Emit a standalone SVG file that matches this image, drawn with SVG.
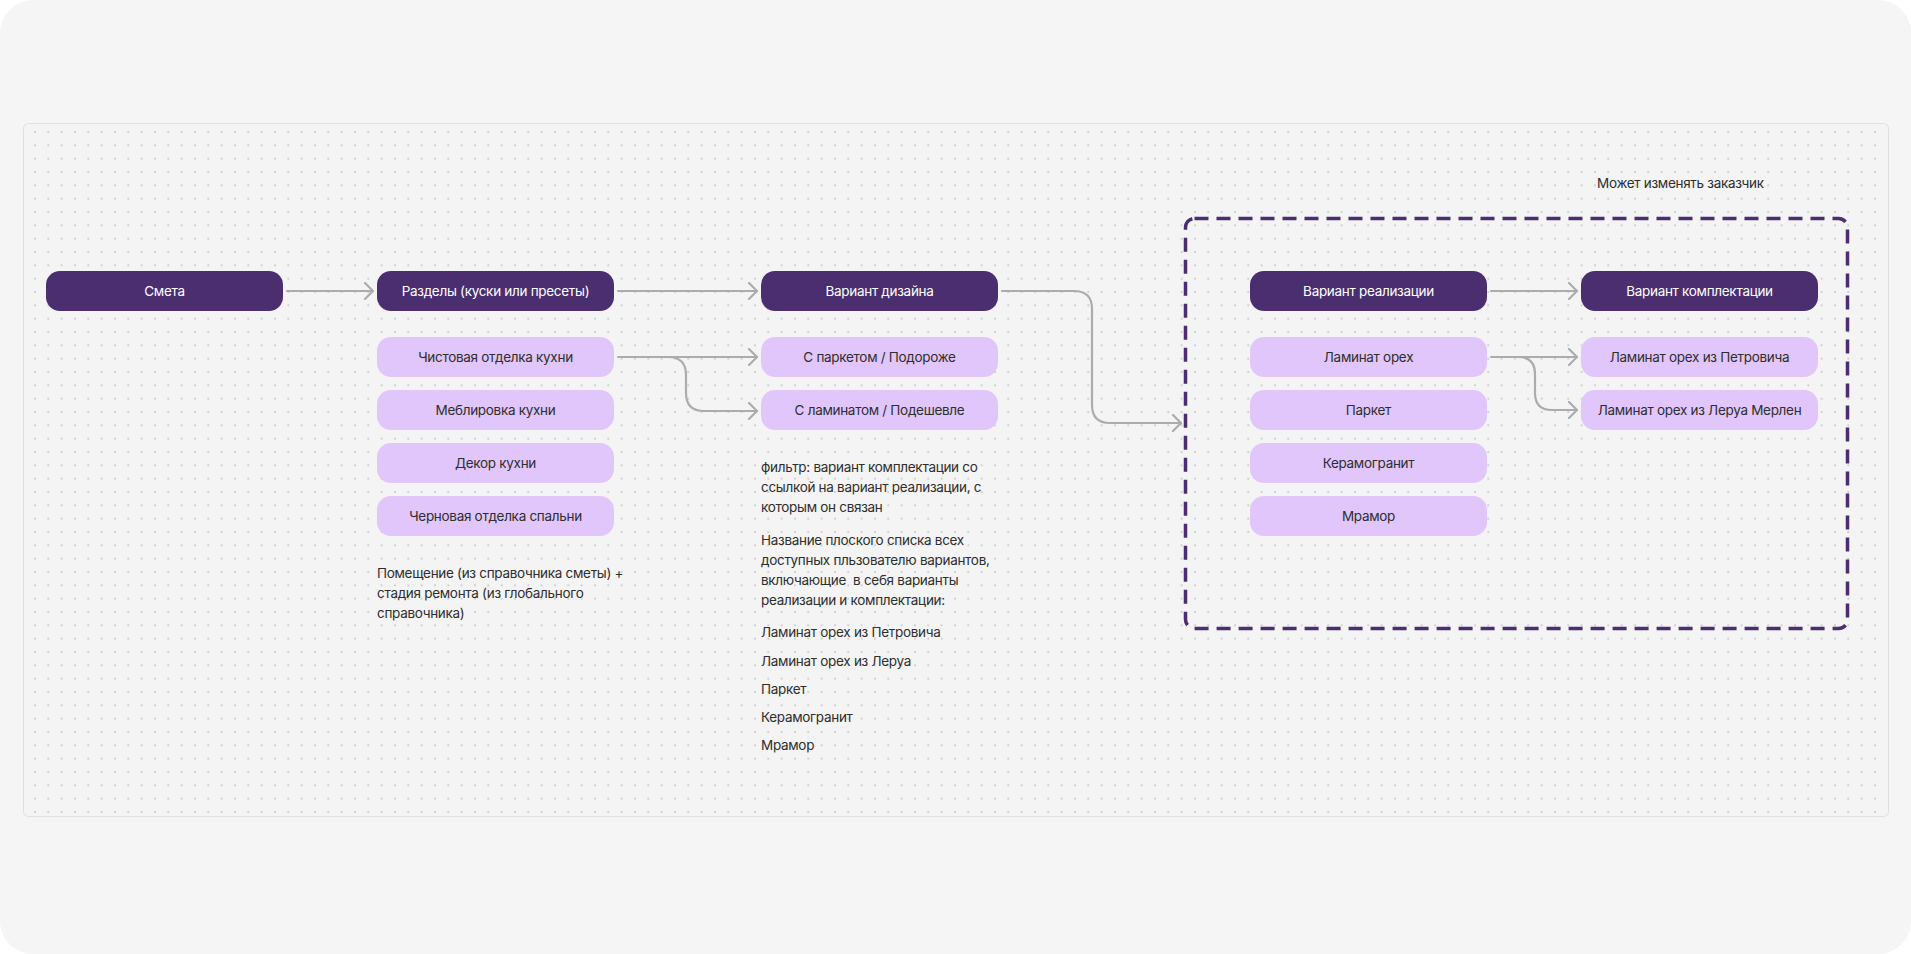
<svg xmlns="http://www.w3.org/2000/svg" width="1911" height="954" viewBox="0 0 1911 954">
<defs>
<style>
.dark{fill:#4a2e70}
.light{fill:#e1c6fc}
.tw{font-family:Inter,"Noto Sans",sans-serif;font-size:13.5px;letter-spacing:-0.3px;fill:#ffffff;text-anchor:middle}
.td{font-family:Inter,"Noto Sans",sans-serif;font-size:13.5px;letter-spacing:-0.3px;fill:#2e2e2e;text-anchor:middle}
.note{font-family:Inter,"Noto Sans",sans-serif;font-size:13.5px;letter-spacing:-0.3px;fill:#2e2e2e;white-space:pre}
.conn{fill:none;stroke:#acacac;stroke-width:2.2;stroke-linecap:round;stroke-linejoin:round}
</style>
<pattern id="dots" x="28.33" y="125.33" width="13.333" height="13.333" patternUnits="userSpaceOnUse">
<circle cx="6.667" cy="6.667" r="0.85" fill="#bdbdbd"/>
</pattern>
<marker id="arr" viewBox="0 0 12 18" refX="10" refY="9" markerWidth="12" markerHeight="18" markerUnits="userSpaceOnUse" orient="auto">
<path d="M2,1 L10,9 L2,17" fill="none" stroke="#acacac" stroke-width="2.2" stroke-linecap="round" stroke-linejoin="round"/>
</marker>
</defs>
<rect x="0" y="0" width="1911" height="954" fill="#ffffff"/>
<rect x="0" y="0" width="1911" height="954" rx="33" fill="#f5f5f5"/>
<rect id="panel" x="23.5" y="123.5" width="1865" height="693" rx="5" fill="#f4f4f4" stroke="#e0e0e0" stroke-width="1"/>
<rect x="28" y="125" width="1856" height="688" fill="url(#dots)"/>

<text class="note" x="1597" y="187.5">Может изменять заказчик</text>
<rect id="customer-area" x="1185.5" y="218.5" width="662" height="410" rx="9" fill="none" stroke="#4a2e70" stroke-width="3.5" stroke-dasharray="14 8"/>

<g id="connectors">
<path class="conn" d="M287,291 H373" marker-end="url(#arr)"/>
<path class="conn" d="M618,291 H757" marker-end="url(#arr)"/>
<path class="conn" d="M618,357 H757" marker-end="url(#arr)"/>
<path class="conn" d="M668,357 Q686,357 686,375 V393 Q686,411 704,411 H757" marker-end="url(#arr)"/>
<path class="conn" d="M1002,291 H1074 Q1092,291 1092,309 V405 Q1092,423 1110,423 H1181" marker-end="url(#arr)"/>
<path class="conn" d="M1491,291 H1577" marker-end="url(#arr)"/>
<path class="conn" d="M1491,357 H1577" marker-end="url(#arr)"/>
<path class="conn" d="M1518,357 Q1535,357 1535,374 V393 Q1535,410 1552,410 H1577" marker-end="url(#arr)"/>
</g>

<g id="n-smeta"><rect class="dark" x="46" y="271" width="237" height="40" rx="14"/><text class="tw" x="164.5" y="296">Смета</text></g>
<g id="n-razdely"><rect class="dark" x="377" y="271" width="237" height="40" rx="14"/><text class="tw" x="495.5" y="296">Разделы (куски или пресеты)</text></g>
<g id="n-chist"><rect class="light" x="377" y="337" width="237" height="40" rx="14"/><text class="td" x="495.5" y="362">Чистовая отделка кухни</text></g>
<g id="n-mebl"><rect class="light" x="377" y="390" width="237" height="40" rx="14"/><text class="td" x="495.5" y="415">Меблировка кухни</text></g>
<g id="n-dekor"><rect class="light" x="377" y="443" width="237" height="40" rx="14"/><text class="td" x="495.5" y="468">Декор кухни</text></g>
<g id="n-chern"><rect class="light" x="377" y="496" width="237" height="40" rx="14"/><text class="td" x="495.5" y="521">Черновая отделка спальни</text></g>

<g id="n-dizain"><rect class="dark" x="761" y="271" width="237" height="40" rx="14"/><text class="tw" x="879.5" y="296">Вариант дизайна</text></g>
<g id="n-parket-dor"><rect class="light" x="761" y="337" width="237" height="40" rx="14"/><text class="td" x="879.5" y="362">С паркетом / Подороже</text></g>
<g id="n-lamin-desh"><rect class="light" x="761" y="390" width="237" height="40" rx="14"/><text class="td" x="879.5" y="415">С ламинатом / Подешевле</text></g>

<g id="n-realiz"><rect class="dark" x="1250" y="271" width="237" height="40" rx="14"/><text class="tw" x="1368.5" y="296">Вариант реализации</text></g>
<g id="n-lamin-orekh"><rect class="light" x="1250" y="337" width="237" height="40" rx="14"/><text class="td" x="1368.5" y="362">Ламинат орех</text></g>
<g id="n-parket"><rect class="light" x="1250" y="390" width="237" height="40" rx="14"/><text class="td" x="1368.5" y="415">Паркет</text></g>
<g id="n-keramo"><rect class="light" x="1250" y="443" width="237" height="40" rx="14"/><text class="td" x="1368.5" y="468">Керамогранит</text></g>
<g id="n-mramor"><rect class="light" x="1250" y="496" width="237" height="40" rx="14"/><text class="td" x="1368.5" y="521">Мрамор</text></g>

<g id="n-komplekt"><rect class="dark" x="1581" y="271" width="237" height="40" rx="14"/><text class="tw" x="1699.5" y="296">Вариант комплектации</text></g>
<g id="n-petrovich"><rect class="light" x="1581" y="337" width="237" height="40" rx="14"/><text class="td" x="1699.5" y="362">Ламинат орех из Петровича</text></g>
<g id="n-lerua"><rect class="light" x="1581" y="390" width="237" height="40" rx="14"/><text class="td" x="1699.5" y="415">Ламинат орех из Леруа Мерлен</text></g>

<g id="note-left">
<text class="note" x="377" y="578">Помещение (из справочника сметы) +</text>
<text class="note" x="377" y="598">стадия ремонта (из глобального</text>
<text class="note" x="377" y="618">справочника)</text>
</g>
<g id="note-right">
<text class="note" x="761" y="472">фильтр: вариант комплектации со</text>
<text class="note" x="761" y="492">ссылкой на вариант реализации, с</text>
<text class="note" x="761" y="512">которым он связан</text>
<text class="note" x="761" y="545">Название плоского списка всех</text>
<text class="note" x="761" y="565">доступных пльзователю вариантов,</text>
<text class="note" x="761" y="585">включающие  в себя варианты</text>
<text class="note" x="761" y="605">реализации и комплектации:</text>
<text class="note" x="761" y="637">Ламинат орех из Петровича</text>
<text class="note" x="761" y="665.5">Ламинат орех из Леруа</text>
<text class="note" x="761" y="694">Паркет</text>
<text class="note" x="761" y="721.5">Керамогранит</text>
<text class="note" x="761" y="750">Мрамор</text>
</g>
</svg>
